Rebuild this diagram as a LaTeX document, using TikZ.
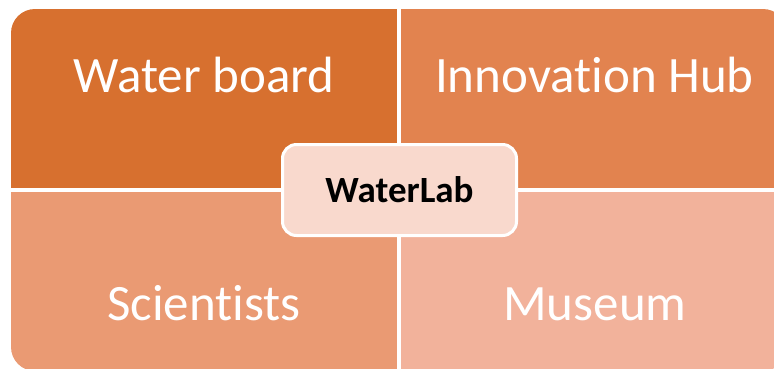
\documentclass[tikz,border=0pt]{standalone}
\usepackage{fontspec}
\setmainfont{Carlito}[Ligatures={NoCommon}]
\begin{document}
\begin{tikzpicture}[x=1pt,y=-1pt,
  quad/.style={rectangle, inner sep=0pt, outer sep=0pt, draw=none,
               minimum width=386pt, minimum height=179pt, anchor=north west},
  quadlabel/.style={anchor=base, text=white, inner sep=0pt,
               font=\fontsize{51}{61}\selectfont},
  hubbox/.style={rectangle, rounded corners=14pt, draw=white, line width=3pt,
               fill=hubfill, minimum width=234pt, minimum height=91pt,
               font=\fontsize{37}{44}\selectfont\bfseries, text=black}
]
\definecolor{tlfill}{HTML}{D7702F}
\definecolor{trfill}{HTML}{E2834F}
\definecolor{blfill}{HTML}{EA9A73}
\definecolor{brfill}{HTML}{F2B29B}
\definecolor{hubfill}{HTML}{F9D9CD}
\useasboundingbox[fill=white] (0,0) rectangle (774,368);

% four quadrants, outer corners rounded by a common clip
\begin{scope}
  \clip[rounded corners=24pt] (11,9) rectangle (787,371);
  \node[quad, fill=tlfill] (tl) at (11,9) {};
  \node[quad, fill=trfill] (tr) at (401,9) {};
  \node[quad, fill=blfill] (bl) at (11,192) {};
  \node[quad, fill=brfill] (br) at (401,192) {};
\end{scope}

% quadrant captions
\node[quadlabel] (tltext) at (204,92) {Water board};
\node[quadlabel] (trtext) at (594.5,92) {Innovation Hub};
\node[quadlabel] (bltext) at (204,320) {Scientists};
\node[quadlabel] (brtext) at (595,320) {Museum};

% central box
\node[hubbox] (hub) at (399.5,190) {WaterLab};
\end{tikzpicture}
\end{document}
